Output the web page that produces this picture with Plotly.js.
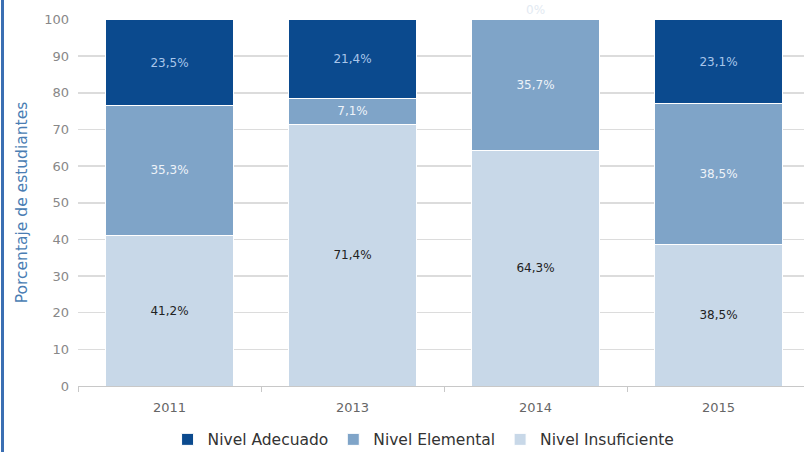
<!DOCTYPE html>
<html>
<head>
<meta charset="utf-8">
<script src="https://cdn.plot.ly/plotly-3.0.1.min.js"></script>
<style>
  html, body { margin: 0; padding: 0; background: #fff; }
  #chart { width: 804px; height: 452px; position: relative; }
  #edge { position: absolute; left: 1px; top: 0; width: 3px; height: 452px; background: #3b6fb3; z-index: 10; }
</style>
</head>
<body>
<div id="chart"><div id="edge"></div></div>
<script>
const years = ['2011', '2013', '2014', '2015'];
const insuficiente = [41.2, 71.4, 64.3, 38.5];
const elemental = [35.3, 7.1, 35.7, 38.5];
const adecuado = [23.5, 21.4, 0, 23.1];
const seriesNames = ['Nivel Adecuado', 'Nivel Elemental', 'Nivel Insuficiente'];
const yTicks = [0, 10, 20, 30, 40, 50, 60, 70, 80, 90, 100];

function fmt(v) { return String(v).replace('.', ',') + '%'; }
const font = 'DejaVu Sans, sans-serif';

const traces = [
  {
    name: seriesNames[2], x: years, y: insuficiente, type: 'bar',
    marker: { color: '#c8d8e8', line: { color: '#ffffff', width: 1 } },
    text: insuficiente.map(fmt), textposition: 'inside', insidetextanchor: 'middle',
    textfont: { color: '#222', size: 12, family: font }, hoverinfo: 'none'
  },
  {
    name: seriesNames[1], x: years, y: elemental, type: 'bar',
    marker: { color: '#7fa4c8', line: { color: '#ffffff', width: 1 } },
    text: elemental.map(fmt), textposition: 'inside', insidetextanchor: 'middle',
    textfont: { color: '#eef3f9', size: 12, family: font }, hoverinfo: 'none'
  },
  {
    name: seriesNames[0], x: years, y: adecuado, type: 'bar',
    marker: { color: '#0b4a8e', line: { color: '#ffffff', width: 1 } },
    text: adecuado.map(fmt),
    textposition: adecuado.map(v => v === 0 ? 'outside' : 'inside'),
    insidetextanchor: 'middle',
    textfont: { color: adecuado.map(v => v === 0 ? '#e3eaf2' : '#a9c6ea'), size: 12, family: font },
    cliponaxis: false, hoverinfo: 'none'
  }
];

const layout = {
  width: 804, height: 452,
  margin: { l: 78, r: 0, t: 19, b: 66 },
  barmode: 'stack', bargap: 0.3,
  paper_bgcolor: '#fff', plot_bgcolor: '#fff',
  font: { family: font, color: '#666', size: 12 },
  xaxis: {
    type: 'category', range: [-0.5, 3.467],
    tickson: 'boundaries', ticks: 'outside', ticklen: 5, tickcolor: '#c8c8c8',
    showline: true, linecolor: '#c8c8c8', linewidth: 1,
    showgrid: false, zeroline: false, ticklabelstandoff: 9,
    tickfont: { color: '#666', size: 13, family: font }
  },
  yaxis: {
    range: [0, 100.15], tickvals: yTicks, ticktext: yTicks.map(String),
    showgrid: true, gridcolor: '#dcdcdc', gridwidth: 1.5, zeroline: false,
    ticks: '', ticklabelstandoff: 8,
    tickfont: { color: '#888', size: 13, family: font },
    title: { text: 'Porcentaje de estudiantes', standoff: 12,
             font: { color: '#4a7db3', size: 15.5, family: font } }
  },
  legend: {
    orientation: 'h', x: 0.476, xanchor: 'center', xref: 'paper',
    yref: 'container', y: 0.027, yanchor: 'middle', traceorder: 'reversed',
    font: { color: '#333', size: 15.5, family: font },
    itemwidth: 30
  },
  showlegend: true
};

Plotly.newPlot('chart', traces, layout, { displayModeBar: false, staticPlot: true });
</script>
</body>
</html>
